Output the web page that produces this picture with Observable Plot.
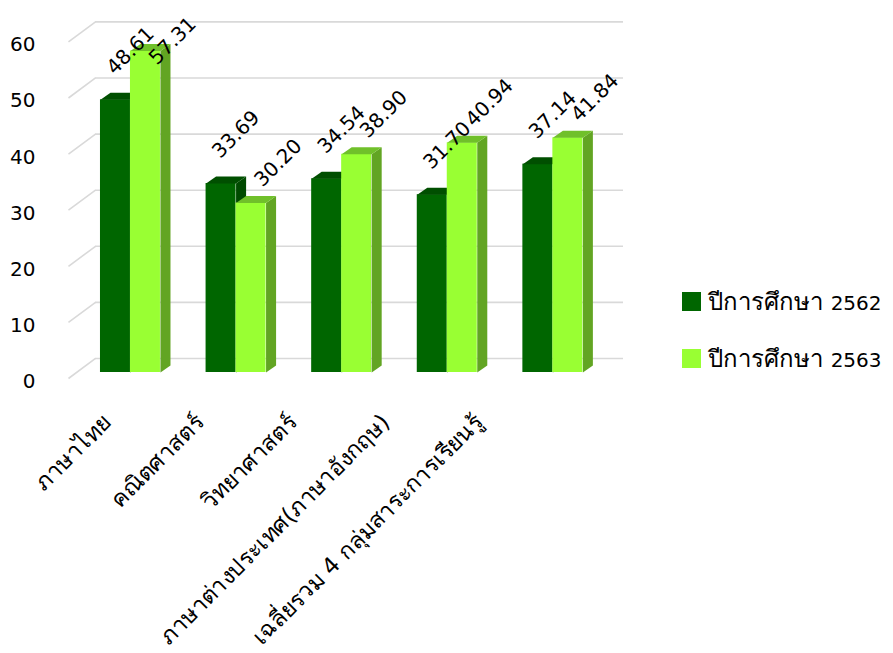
<!DOCTYPE html>
<html>
<head>
<meta charset="utf-8">
<script src="https://cdn.jsdelivr.net/npm/d3@7"></script>
<script src="https://cdn.jsdelivr.net/npm/@observablehq/plot@0.6"></script>
<style>
  body { margin: 0; background: #fff; font-family: Tahoma, "DejaVu Sans", "Noto Sans", sans-serif; }
  #wrap { position: relative; width: 893px; height: 653px; }
  #legend { position: absolute; left: 682px; top: 273px; font-size: 20px; color: #000; }
  .item { display: flex; align-items: center; height: 57px; white-space: nowrap; }
  .sw { width: 19px; height: 19px; margin-right: 7px; flex: none; }
  .th { font-size: 24px; }
</style>
</head>
<body>
<div id="wrap"></div>
<script>
const categories = ["ภาษาไทย", "คณิตศาสตร์", "วิทยาศาสตร์", "ภาษาต่างประเทศ(ภาษาอังกฤษ)", "เฉลี่ยรวม 4 กลุ่มสาระการเรียนรู้"];
const seriesThai = ["ปีการศึกษา", "ปีการศึกษา"];
const seriesYears = ["2562", "2563"];
const values2562 = [48.61, 33.69, 34.54, 31.70, 37.14];
const values2563 = [57.31, 30.20, 38.90, 40.94, 41.84];
const yTicks = [0, 10, 20, 30, 40, 50, 60];

const palette = {
  dark:  { front: "#006600", top: "#004f00", side: "#004a00" },
  light: { front: "#99ff33", top: "#70c02a", side: "#62a523" }
};

// geometry (in scale units)
const DX = 0.095, DY = 1.25;          // bar depth
const bars = [];
categories.forEach((c, i) => {
  bars.push({ s: "dark", i, v: values2562[i], x1: i + 0.227, x2: i + 0.511 });
  bars.push({ s: "light", i, v: values2563[i], x1: i + 0.511, x2: i + 0.795 });
});

function sidePoly(b) {
  return [[b.x2, 0], [b.x2 + DX, DY], [b.x2 + DX, b.v + DY], [b.x2, b.v]].map(p => ({ id: b.s + b.i, x: p[0], y: p[1] }));
}
function topPoly(b) {
  return [[b.x1, b.v], [b.x2, b.v], [b.x2 + DX, b.v + DY], [b.x1 + DX, b.v + DY]].map(p => ({ id: b.s + b.i, x: p[0], y: p[1] }));
}

const marks = [];
// back wall gridlines and side wall diagonals
marks.push(Plot.ruleY(yTicks, { y: d => d + 2.5, x1: 0.18, x2: 5.18, stroke: "#d9d9d9", strokeWidth: 1.6 }));
marks.push(Plot.link(yTicks, { x1: -0.076, y1: d => d - 1.07, x2: 0.18, y2: d => d + 2.5, stroke: "#d9d9d9", strokeWidth: 1.6 }));

for (const s of ["dark", "light"]) {
  const bs = bars.filter(b => b.s === s);
  marks.push(Plot.rect(bs, { x1: "x1", x2: "x2", y1: 0, y2: "v", fill: palette[s].front, inset: 0 }));
  marks.push(Plot.line(bs.flatMap(sidePoly), { x: "x", y: "y", z: "id", fill: palette[s].side, stroke: null }));
  marks.push(Plot.line(bs.flatMap(topPoly), { x: "x", y: "y", z: "id", fill: palette[s].top, stroke: null }));
}

// y tick labels
marks.push(Plot.text(yTicks, { x: 0, y: d => d, text: d => String(d), textAnchor: "end", dx: -41, dy: 9, fontSize: 20, fill: "#000" }));

// data labels
marks.push(Plot.text(values2562, { x: (d, i) => i + 0.51, y: d => d + 8.75, text: d => d.toFixed(2), rotate: -45, fontSize: 20, fill: "#000" }));
marks.push(Plot.text(values2563, { x: (d, i) => i + 0.91, y: d => Math.min(d + 7.14, 59.1), text: d => d.toFixed(2), rotate: -45, fontSize: 20, fill: "#000" }));

// category labels
marks.push(Plot.text(categories, { x: (d, i) => 0.29 + 0.88 * i, y: 0, dy: 46, text: d => d, rotate: -45, textAnchor: "end", fontSize: 23, fill: "#000" }));

const chart = Plot.plot({
  width: 893,
  height: 653,
  marginLeft: 76,
  marginRight: 289,
  marginTop: 35.4,
  marginBottom: 281,
  x: { type: "linear", domain: [0, 5], axis: null },
  y: { type: "linear", domain: [0, 60], axis: null },
  style: { fontFamily: 'Tahoma, "DejaVu Sans", "Noto Sans", sans-serif', background: "#fff", overflow: "visible" },
  marks
});

const wrap = document.getElementById("wrap");
wrap.appendChild(chart);

const legend = document.createElement("div");
legend.id = "legend";
seriesYears.forEach((yr, k) => {
  const item = document.createElement("div");
  item.className = "item";
  const sw = document.createElement("div");
  sw.className = "sw";
  sw.style.background = k === 0 ? palette.dark.front : palette.light.front;
  const t = document.createElement("span");
  const th = document.createElement("span");
  th.className = "th";
  th.textContent = seriesThai[k] + " ";
  const num = document.createElement("span");
  num.textContent = yr;
  t.appendChild(th);
  t.appendChild(num);
  item.appendChild(sw);
  item.appendChild(t);
  legend.appendChild(item);
});
wrap.appendChild(legend);
</script>
</body>
</html>
